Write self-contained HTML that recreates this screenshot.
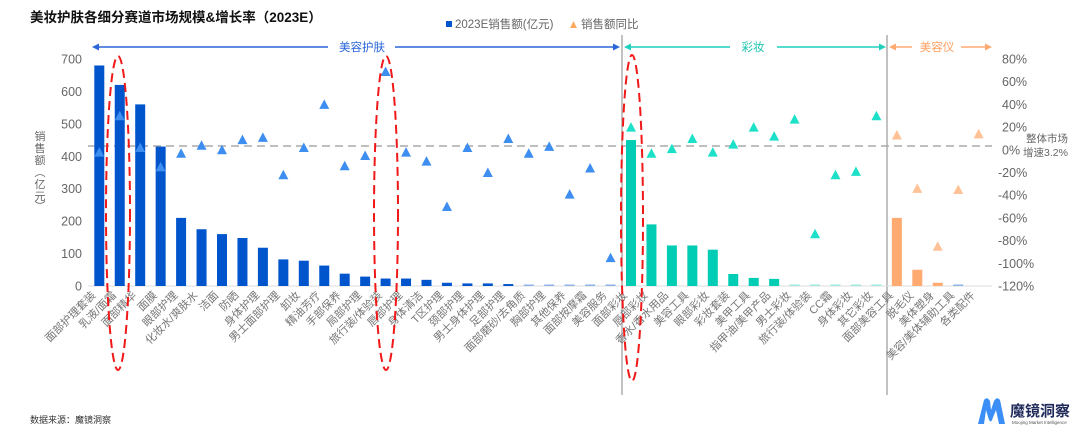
<!DOCTYPE html>
<html><head><meta charset="utf-8"><style>
body{margin:0;background:#fff;}
svg{display:block;font-family:"Liberation Sans","Noto Sans CJK SC",sans-serif;}
</style></head><body>
<svg width="1080" height="432" viewBox="0 0 1080 432" xmlns="http://www.w3.org/2000/svg" id="s">
<text x="30" y="22" font-size="13.5" font-weight="bold" fill="#111">美妆护肤各细分赛道市场规模&amp;增长率（2023E）</text>
<rect x="446" y="21" width="6" height="6" fill="#0055cc"/>
<text x="455" y="28" font-size="11.5" fill="#666">2023E销售额(亿元)</text>
<polygon points="570,28 577,28 573.5,21" fill="#ffaa60"/>
<text x="581" y="28" font-size="11.5" fill="#666">销售额同比</text>
<g stroke-width="1.5">
<line x1="98" y1="47" x2="328" y2="47" stroke="#2a66d8"/><line x1="395" y1="47" x2="618" y2="47" stroke="#2a66d8"/>
<line x1="626" y1="47" x2="730" y2="47" stroke="#1fd1bd"/><line x1="777" y1="47" x2="884" y2="47" stroke="#1fd1bd"/>
<line x1="891" y1="47" x2="912" y2="47" stroke="#ffaa70"/><line x1="961" y1="47" x2="988" y2="47" stroke="#ffaa70"/>
</g>
<polygon points="92,47 99,43.5 99,50.5" fill="#2a66d8"/><polygon points="620,47 613,43.5 613,50.5" fill="#2a66d8"/>
<polygon points="624,47 631,43.5 631,50.5" fill="#1fd1bd"/><polygon points="886,47 879,43.5 879,50.5" fill="#1fd1bd"/>
<polygon points="889,47 896,43.5 896,50.5" fill="#ffaa70"/><polygon points="992,47 985,43.5 985,50.5" fill="#ffaa70"/>
<text x="362" y="51" font-size="11.5" fill="#2a66d8" text-anchor="middle">美容护肤</text>
<text x="753" y="51" font-size="11.5" fill="#1fc4b0" text-anchor="middle">彩妆</text>
<text x="937" y="51" font-size="11.5" fill="#ffa060" text-anchor="middle">美容仪</text>
<line x1="622" y1="35" x2="622" y2="395" stroke="#999" stroke-width="1.2"/>
<line x1="887" y1="35" x2="887" y2="395" stroke="#999" stroke-width="1.2"/>
<g font-size="12.5" fill="#666" text-anchor="end" id="yl"></g>
<g font-size="12.5" fill="#666" id="yr"></g>
<g font-size="11" fill="#666" text-anchor="middle">
<text x="40" y="140">销</text><text x="40" y="152">售</text><text x="40" y="164">额</text><text x="40" y="176">︵</text><text x="40" y="188">亿</text><text x="40" y="200">元</text><text x="40" y="210">︶</text>
</g>
<text x="1026" y="142" font-size="10.5" fill="#666">整体市场</text>
<text x="1023" y="156" font-size="10.5" fill="#666">增速3.2%</text>
<line x1="88" y1="286" x2="992" y2="286" stroke="#ddd"/>
<line x1="88" y1="146" x2="992" y2="146" stroke="#aaa" stroke-width="1.5" stroke-dasharray="8,5"/>
<g id="bars"></g><g id="tri"></g><g id="lab" font-size="11" fill="#777"></g>
<g fill="none" stroke="#f01818" stroke-width="2" stroke-dasharray="9,5">
<ellipse cx="118" cy="213" rx="12" ry="157"/>
<ellipse cx="386" cy="213" rx="12" ry="157"/>
<ellipse cx="632" cy="218" rx="11" ry="163"/>
</g>
<text x="30" y="423" font-size="9" fill="#333">数据来源：魔镜洞察</text>
<path d="M978,424 L984,400 Q987,396 990,401 L991,410 L994,401 Q997,396 1000,400 L1005,424 L999,424 L996,410 L992,420 Q991,423 989,420 L986,410 L984,424 Z" fill="#3a8ef5"/>
<text x="1010" y="416" font-size="15" font-weight="bold" fill="#1f2a5a">魔镜洞察</text>
<text x="1012" y="424" font-size="4.5" fill="#555">Moojing Market Intelligence</text>
</svg>
<script>
var NS="http://www.w3.org/2000/svg";
function el(p,t,a,txt){var e=document.createElementNS(NS,t);for(var k in a)e.setAttribute(k,a[k]);if(txt!=null)e.textContent=txt;document.getElementById(p).appendChild(e);return e;}
for(var v=0;v<=700;v+=100)el("yl","text",{x:82,y:286-0.3243*v+4.5},v);
for(var p=80;p>=-120;p-=20)el("yr","text",{x:p<0?998:1002,y:286-(p+120)*1.135+4.5},p+"%");
var labels=["面部护理套装","乳液/面霜","面部精华","面膜","眼部护理","化妆水/爽肤水","洁面","防晒","身体护理","男士面部护理","卸妆","精油芳疗","手部保养","局部护理","旅行装/体验装","唇部护理","身体清洁","T区护理","颈部护理","男士身体护理","足部护理","面部磨砂/去角质","胸部护理","其他保养","面部按摩霜","美容服务","面部彩妆","唇部彩妆","香水/香水用品","美容工具","眼部彩妆","彩妆套装","美甲工具","指甲油/美甲产品","男士彩妆","旅行装/体验装","CC霜","身体彩妆","其它彩妆","面部美容工具","脱毛仪","美体塑身","美容/美体辅助工具","各类配件"];
var vals=[680,620,560,430,210,175,160,148,118,82,78,63,38,29,23,23,19,10,8,8,6,4,2,2,2,2,450,190,125,125,112,37,25,22,2,2,2,2,2,210,50,10,2,0];
var gr=[-2,30,2,-15,-3,4,0,9,11,-22,2,40,-14,-5,69,-2,-10,-50,2,-20,10,-3,3,-39,-16,-95,20,-3,1,10,-2,5,20,12,27,-74,-22,-19,30,13,-34,-85,-35,14];
for(var i=0;i<44;i++){
 var x=99.3+20.45*i;
 var c,tc;
 if(i<26){c=i>=21?"#8fb2ea":"#0055cc";tc="#3d8ef0";}
 else if(i<39){c=i>=34?"#9ee8de":"#00cdb4";tc="#1de0c8";}
 else{c=i==42?"#8fb2ea":"#ffaa70";tc="#ffc296";}
 var h=Math.max(vals[i]*0.3243,vals[i]>0?1.5:0);
 el("bars","rect",{x:x-5,y:286-h,width:10,height:h,fill:c});
 var ty=286-(gr[i]+120)*1.135;
 el("tri","polygon",{points:(x-5)+","+(ty+4.5)+" "+(x+5)+","+(ty+4.5)+" "+x+","+(ty-5),fill:tc});
 el("lab","text",{x:x-3,y:296,"text-anchor":"end",transform:"rotate(-45 "+(x-3)+" 296)"},labels[i]);
}
</script>
</body></html>
